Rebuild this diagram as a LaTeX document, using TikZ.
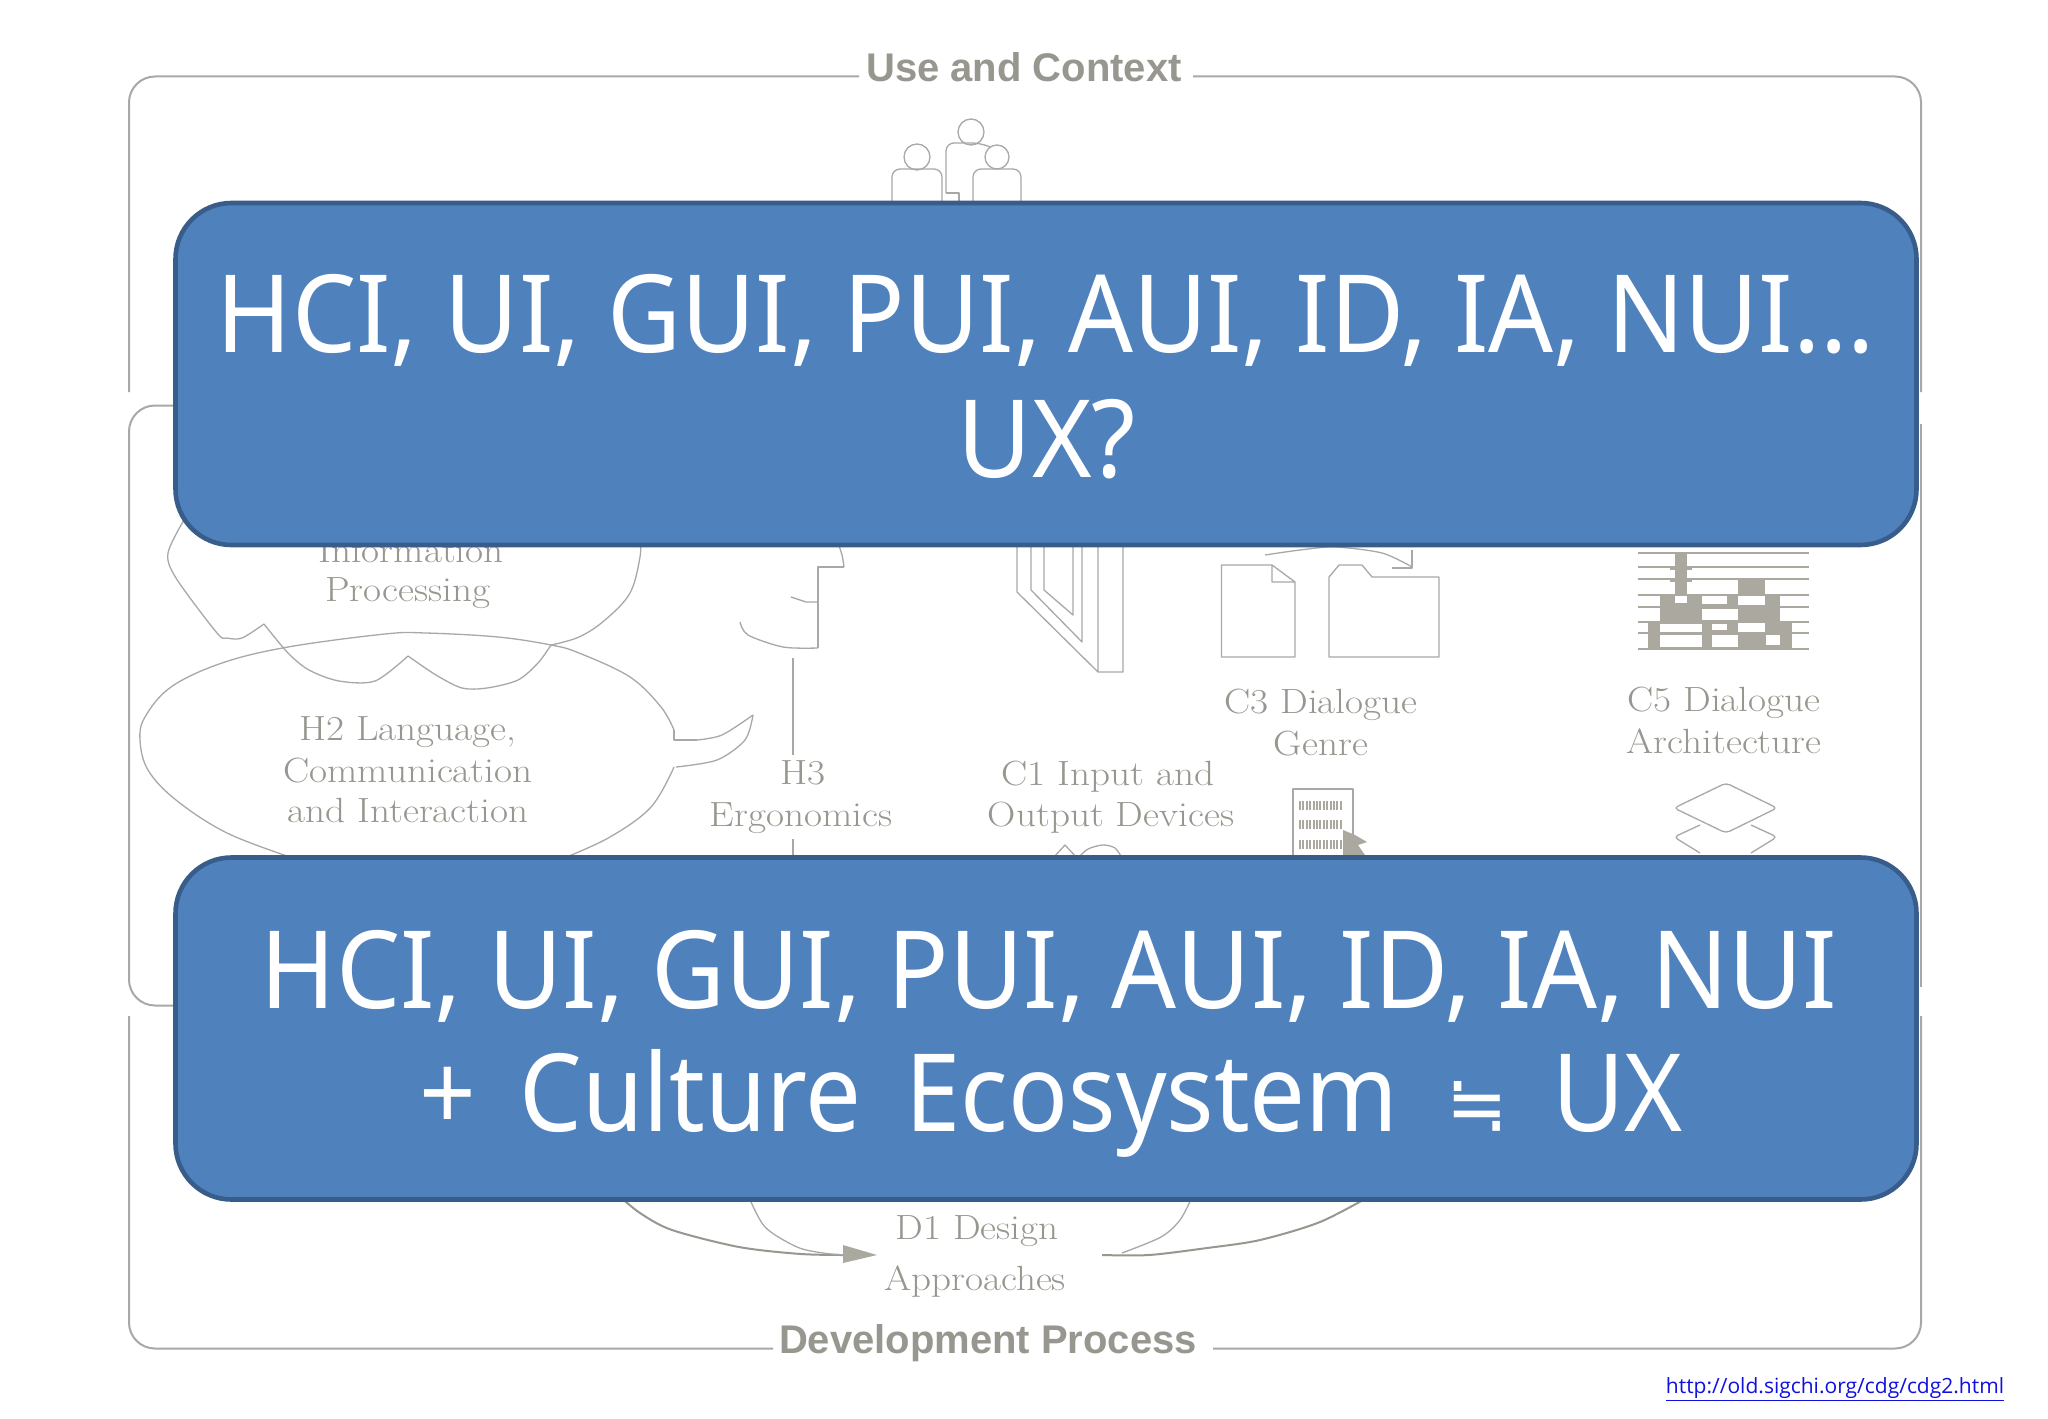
\documentclass[tikz,border=0pt]{standalone}
\usepackage{fontspec}
\newfontfamily\boxfont{Noto Sans}
\newfontfamily\linkfont{Open Sans}
\newfontfamily\symfont{DejaVu Sans}
\newfontfamily\labfont{Liberation Sans}
\definecolor{framegray}{HTML}{A8A8A6}
\definecolor{dgmgray}{HTML}{98978F}
\definecolor{blockgray}{HTML}{ABA99F}
\definecolor{boxfill}{HTML}{4F81BD}
\definecolor{boxedge}{HTML}{385D8A}
\definecolor{linkblue}{HTML}{1010E0}
\tikzset{
  frameline/.style={draw=framegray,line width=1pt,rounded corners=13pt,line cap=butt},
  sketch/.style={draw=framegray,line width=.65pt,line join=round},
  heavy/.style={draw=dgmgray,line width=1pt},
  dgm/.style={anchor=base,inner sep=0pt,xscale=1.12,text=dgmgray,font=\fontsize{17.5}{20}\selectfont},
  lab/.style={anchor=base,inner sep=0pt,text=dgmgray,font=\labfont\bfseries\fontsize{20}{24}\selectfont},
  bluebox/.style={draw=boxedge,fill=boxfill,line width=2.3pt,rounded corners=28pt,minimum width=870.5pt,minimum height=171pt,inner sep=0pt},
  boxtext/.style={anchor=base,inner sep=0pt,text=white,xscale=.942,font=\boxfont\fontsize{54}{60}\selectfont},
}
\begin{document}
\begin{tikzpicture}[x=.5pt,y=-.5pt]
\useasboundingbox (0,0) rectangle (2048,1418);
\fill[white] (0,0) rectangle (2048,1418);
% frames
\draw[frameline] (129,392) -- (129,76.5) -- (859,76.5);
\draw[frameline] (1193,76.5) -- (1921,76.5) -- (1921,392);
\draw[frameline] (180,405.5) -- (129,405.5) -- (129,1005.5) -- (180,1005.5);
\draw[frameline] (1921,424) -- (1921,987);
\draw[frameline] (129,1016) -- (129,1348.5) -- (773,1348.5);
\draw[frameline] (1213,1348.5) -- (1921,1348.5) -- (1921,1016);
\node[lab] (usecontext) at (1024,82) {Use and Context};
\node[lab] (devproc) at (988,1353) {Development Process};
% people
\draw[sketch] (917,157) circle[radius=13];
\draw[sketch] (971,132) circle[radius=13];
\draw[sketch] (997,157) circle[radius=12];
\draw[sketch,rounded corners=4pt] (892,205) -- (892,169) -- (942,169) -- (942,205);
\draw[sketch,rounded corners=4pt] (990,147) -- (980,143) -- (946,143) -- (946,193);
\draw[sketch] (946,193) -- (959,193) -- (959,205);
\draw[sketch,rounded corners=4pt] (973,205) -- (973,169) -- (1021,169) -- (1021,205);
% H1 cloud
\draw[sketch] plot[smooth,tension=.5] coordinates {(184,520) (168,553) (176,578) (217,633) (227,638) (242,638) (264,624)};
\draw[sketch] plot[smooth,tension=.5] coordinates {(264,624) (288,653) (309,670) (339,681) (375,681) (408,656)};
\draw[sketch] plot[smooth,tension=.5] coordinates {(408,656) (436,675) (462,688) (487,688) (518,680) (538,663) (551,645)};
\draw[sketch] plot[smooth,tension=.6] coordinates {(551,645) (579,637) (605,620) (630,593) (640,557) (640,540)};
\node[dgm] (h1a) at (411,562) {Information};
\node[dgm] (h1b) at (408,601) {Processing};
% H2 bubble
\draw[sketch] plot[smooth,tension=.6] coordinates {(674,730) (661,707) (630,677) (579,653) (551,645) (498,637) (426,633) (385,634) (288,647) (222,663) (171,687) (145,717) (140,740) (148,770) (176,800) (227,833) (293,858)};
\draw[sketch] plot[smooth,tension=.6] coordinates {(564,858) (610,837) (651,807) (674,767)};
\draw[sketch] (674,730) -- (674,740) -- (697,740);
\draw[sketch] plot[smooth] coordinates {(697,740) (722,735) (753,715)};
\draw[sketch] plot[smooth] coordinates {(753,715) (745,740) (717,760) (676,767)};
\node[dgm] (h2a) at (408,740) {H2 Language,};
\node[dgm] (h2b) at (408,782) {Communication};
\node[dgm] (h2c) at (408,822) {and Interaction};
% head
\draw[sketch] plot[smooth] coordinates {(837,540) (842,555) (844,567)};
\draw[sketch] (844,567) -- (818,567) -- (818,648);
\draw[sketch] plot[smooth] coordinates {(740,622) (748,635) (783,647) (818,648)};
\draw[sketch] (791,597) -- (806,602) -- (818,602);
\draw[framegray,line width=.9pt] (793,658) -- (793,755);
\draw[framegray,line width=.9pt] (793,839) -- (793,860);
\node[dgm] (h3a) at (803,784) {H3};
\node[dgm] (h3b) at (801,826) {Ergonomics};
% book
\draw[sketch] (1017,540) -- (1017,592) -- (1098,672) -- (1123,672) -- (1123,540) (1098,540) -- (1098,672);
\draw[sketch] (1031,540) -- (1031,590) -- (1082,642) -- (1082,540);
\draw[sketch] (1044,540) -- (1044,590) -- (1073,615) -- (1073,540);
% C3 icons
\draw[sketch] plot[smooth] coordinates {(1265,555) (1300,550) (1335,547) (1382,553) (1412,567)};
\draw[sketch] (1412,550) -- (1412,568) -- (1392,568);
\draw[sketch] (1272,565) -- (1221.5,565) -- (1221.5,657) -- (1295,657) -- (1295,582) -- (1272,565) -- (1272,582) -- (1295,582);
\draw[sketch] (1329,657) -- (1329,577) -- (1339,565) -- (1362,565) -- (1372,577) -- (1439,577) -- (1439,657) -- cycle;
\node[dgm] (c3a) at (1321,713) {C3 Dialogue};
\node[dgm] (c3b) at (1321,755) {Genre};
% C5 block
\foreach \yy in {553,567,579,595,607,622,633,649}{\draw[blockgray,line width=1.2pt] (1638,\yy) -- (1809,\yy);}
\fill[blockgray] (1675,553) rectangle (1687,595);
\fill[blockgray] (1670,567) rectangle (1692,570);
\fill[blockgray] (1670,579) rectangle (1692,582);
\fill[blockgray] (1738,579) rectangle (1765,595);
\fill[blockgray] (1660,595) rectangle (1780,622);
\fill[blockgray] (1648,622) rectangle (1792,649);
\fill[white] (1675,596) rectangle (1687,603);
\fill[white] (1702,596) rectangle (1727,604);
\fill[white] (1702,609) rectangle (1738,620);
\fill[white] (1738,596) rectangle (1765,605);
\fill[white] (1660,624) rectangle (1702,632);
\fill[white] (1660,635) rectangle (1702,647);
\fill[white] (1712,624) rectangle (1727,630);
\fill[white] (1712,635) rectangle (1738,647);
\fill[white] (1738,623) rectangle (1765,632);
\fill[white] (1766,635) rectangle (1780,645);
\node[dgm] (c5a) at (1724,711) {C5 Dialogue};
\node[dgm] (c5b) at (1724,753) {Architecture};
% C1 and screen
\node[dgm] (c1a) at (1108,785) {C1 Input and};
\node[dgm] (c1b) at (1111,826) {Output Devices};
\draw[sketch] (1053,858) -- (1065,845) -- (1077,858);
\draw[sketch] plot[smooth] coordinates {(1078,858) (1088,849) (1103,845) (1115,848) (1122,858)};
\draw[sketch] (1293,860) -- (1293,789) -- (1353,789) -- (1353,860);
\foreach \yy in {805,824,844}{\draw[blockgray,line width=4.5pt,dash pattern=on 1pt off .7pt] (1299,\yy) -- (1343,\yy);}
\fill[blockgray] (1343,830) -- (1355,835) -- (1367,842) -- (1358,845) -- (1367,858) -- (1343,858) -- cycle;
% layers
\draw[sketch,rounded corners=2pt] (1726,783) -- (1777,808) -- (1726,833) -- (1674,808) -- cycle;
\draw[sketch,rounded corners=2pt] (1700,825) -- (1674,837) -- (1700,853) (1751,825) -- (1777,837) -- (1751,853);
% D1 arrows
\draw[heavy] plot[smooth] coordinates {(618,1195) (640,1213) (672,1230) (739,1247) (801,1254) (850,1255)};
\fill[blockgray] (843,1245) -- (877,1255) -- (843,1263) -- cycle;
\draw[sketch] plot[smooth] coordinates {(748,1195) (765,1227) (797,1247) (823,1253) (845,1255)};
\draw[heavy] plot[smooth] coordinates {(1102,1255) (1149,1255) (1207,1248) (1260,1240) (1320,1222) (1372,1195)};
\draw[sketch] plot[smooth] coordinates {(1122,1253) (1161,1237) (1180,1220) (1193,1195)};
\node[dgm] (d1a) at (977,1239) {D1 Design};
\node[dgm] (d1b) at (975,1290) {Approaches};
% blue boxes
\node[bluebox] (box1) at (1046,374) {};
\node[bluebox] (box2) at (1046,1028.5) {};
\node[boxtext] (t1a) at (1046,352) {HCI, UI, GUI, PUI, AUI, ID, IA, NUI...};
\node[boxtext] (t1b) at (1047,477) {UX?};
\node[boxtext] (t2a) at (1049,1008) {HCI, UI, GUI, PUI, AUI, ID, IA, NUI};
\node[boxtext,xscale=.975] (t2b) at (1051,1131) {+ \hspace{10pt}Culture \hspace{10pt}Ecosystem \hspace{12pt}{\symfont\fontsize{40}{40}\selectfont ≒} \hspace{10pt}UX};
\node[anchor=base,inner sep=0pt,text=linkblue,font=\linkfont\fontsize{10.5}{12}\selectfont] (link) at (1835,1393) {\underline{http://old.sigchi.org/cdg/cdg2.html}};
\end{tikzpicture}
\end{document}
